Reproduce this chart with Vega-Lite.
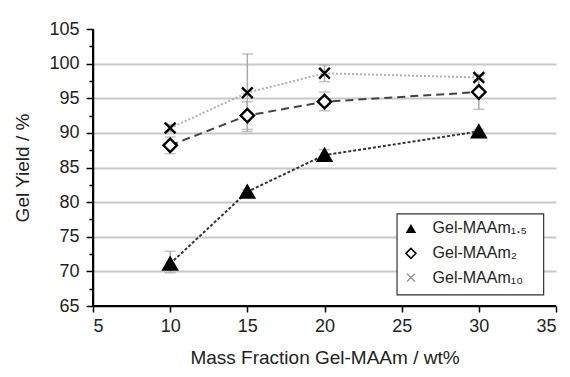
{
  "$schema": "https://vega.github.io/schema/vega-lite/v6.json",
  "width": 570,
  "height": 377,
  "autosize": {"type": "fit", "contains": "padding"},
  "padding": {"left": 13, "top": 20, "right": 13, "bottom": 10},
  "config": {
    "view": {"stroke": null},
    "font": "Liberation Sans",
    "axis": {"labelFont": "Liberation Sans", "titleFont": "Liberation Sans", "labelColor": "#222", "titleColor": "#222", "titleFontWeight": "normal"}
  },
  "data": {
    "values": [
      {"series": "Gel-MAAm₁.₅", "x": 10, "y": 71.1, "lo": 69.8, "hi": 72.9},
      {"series": "Gel-MAAm₁.₅", "x": 15, "y": 81.5, "lo": 81.2, "hi": 81.8},
      {"series": "Gel-MAAm₁.₅", "x": 20, "y": 86.8, "lo": 86.0, "hi": 87.6},
      {"series": "Gel-MAAm₁.₅", "x": 30, "y": 90.2, "lo": 89.9, "hi": 90.5},
      {"series": "Gel-MAAm₂", "x": 10, "y": 88.2, "lo": 87.0, "hi": 89.4},
      {"series": "Gel-MAAm₂", "x": 15, "y": 92.5, "lo": 90.5, "hi": 94.5},
      {"series": "Gel-MAAm₂", "x": 20, "y": 94.5, "lo": 93.2, "hi": 95.9},
      {"series": "Gel-MAAm₂", "x": 30, "y": 95.9, "lo": 93.4, "hi": 98.4},
      {"series": "Gel-MAAm₁₀", "x": 10, "y": 90.7, "lo": 90.2, "hi": 91.2},
      {"series": "Gel-MAAm₁₀", "x": 15, "y": 95.8, "lo": 90.2, "hi": 101.4},
      {"series": "Gel-MAAm₁₀", "x": 20, "y": 98.6, "lo": 97.4, "hi": 99.8},
      {"series": "Gel-MAAm₁₀", "x": 30, "y": 98.0, "lo": 97.7, "hi": 98.3}
    ]
  },
  "resolve": {"axis": {"y": "independent"}},
  "layer": [
    {
      "mark": {"type": "rule", "color": "#aaaaaa", "strokeWidth": 1.5},
      "encoding": {
        "x": {
          "field": "x", "type": "quantitative",
          "scale": {"domain": [5, 35], "nice": false, "zero": false},
          "axis": {"values": [5, 10, 15, 20, 25, 30, 35], "grid": false, "domain": true, "domainColor": "#000000", "domainWidth": 1.5, "ticks": true, "tickColor": "#000000", "tickWidth": 1.5, "tickSize": 6, "labelFontSize": 18, "labelPadding": 5, "title": "Mass Fraction Gel-MAAm / wt%", "titleFontSize": 19, "titlePadding": 13}
        },
        "y": {"field": "lo", "type": "quantitative", "scale": {"domain": [65, 105], "nice": false, "zero": false},
          "axis": {
            "orient": "left",
            "values": [65, 70, 75, 80, 85, 90, 95, 100, 105],
            "labelOverlap": false,
            "domain": true, "domainColor": "#000000", "domainWidth": 1.5,
            "ticks": true, "tickColor": "#000000", "tickWidth": 1.5, "tickSize": 7,
            "grid": true,
            "gridColor": "#c8c8c8",
            "gridWidth": 2,
            "gridOpacity": {"condition": {"test": "datum.value > 65 && datum.value < 105", "value": 1}, "value": 0},
            "labelFontSize": 18, "labelPadding": 7,
            "title": "Gel Yield / %", "titleFontSize": 19, "titlePadding": 16
          }},
        "y2": {"field": "hi"}
      }
    },
    {
      "mark": {"type": "tick", "color": "#aaaaaa", "thickness": 1.5, "size": 11, "orient": "horizontal"},
      "encoding": {
        "x": {"field": "x", "type": "quantitative"},
        "y": {"field": "lo", "type": "quantitative",
        "axis": {"orient": "left", "values": [67.5, 72.5, 77.5, 82.5, 87.5, 92.5, 97.5, 102.5], "labels": false, "domain": false, "grid": false, "tickColor": "#000000", "tickWidth": 1.5, "tickSize": 4, "title": null}}}
    },
    {
      "mark": {"type": "tick", "color": "#aaaaaa", "thickness": 1.5, "size": 11, "orient": "horizontal"},
      "encoding": {
        "x": {"field": "x", "type": "quantitative"},
        "y": {"field": "hi", "type": "quantitative", "axis": null}}
    },
    {
      "mark": {"type": "rule", "color": "#000000", "strokeWidth": 1.5},
      "encoding": {"x": {"datum": 5, "type": "quantitative"}, "y": {"datum": 65, "type": "quantitative", "axis": null}, "y2": {"datum": 105}}
    },
    {
      "mark": {"type": "rule", "color": "#000000", "strokeWidth": 1.5},
      "encoding": {"x": {"datum": 5, "type": "quantitative"}, "x2": {"datum": 35}, "y": {"datum": 65, "type": "quantitative", "axis": null}}
    },
    {
      "mark": {"type": "line"},
      "encoding": {
        "x": {"field": "x", "type": "quantitative"},
        "y": {"field": "y", "type": "quantitative", "axis": null},
        "detail": {"field": "series"},
        "stroke": {"field": "series", "type": "nominal", "legend": null,
          "scale": {"domain": ["Gel-MAAm₁.₅", "Gel-MAAm₂", "Gel-MAAm₁₀"], "range": ["#333333", "#444444", "#b0b0b0"]}},
        "strokeDash": {"field": "series", "type": "nominal", "legend": null,
          "scale": {"domain": ["Gel-MAAm₁.₅", "Gel-MAAm₂", "Gel-MAAm₁₀"], "range": [[3, 2], [8, 5], [2, 2]]}},
        "strokeWidth": {"field": "series", "type": "nominal", "legend": null,
          "scale": {"domain": ["Gel-MAAm₁.₅", "Gel-MAAm₂", "Gel-MAAm₁₀"], "range": [2, 2, 1.2]}}
      }
    },
    {
      "mark": {"type": "point", "strokeWidth": 2.4, "opacity": 1, "size": 180, "stroke": "#000000"},
      "encoding": {
        "x": {"field": "x", "type": "quantitative"},
        "y": {"field": "y", "type": "quantitative", "axis": null},
        "shape": {"field": "series", "type": "nominal", "legend": null,
          "scale": {"domain": ["Gel-MAAm₁.₅", "Gel-MAAm₂", "Gel-MAAm₁₀"], "range": ["triangle-up", "diamond", "M-0.8,-0.8L0.8,0.8M0.8,-0.8L-0.8,0.8"]}},
        "fill": {"field": "series", "type": "nominal", "legend": null,
          "scale": {"domain": ["Gel-MAAm₁.₅", "Gel-MAAm₂", "Gel-MAAm₁₀"], "range": ["#000000", "#ffffff", "#000000"]}}
      }
    },
    {
      "data": {"values": [{"box": "legend"}]},
      "mark": {"type": "rect", "fill": "#ffffff", "stroke": "#333333", "strokeWidth": 1.2},
      "encoding": {
        "x": {"datum": 24.7, "type": "quantitative"}, "x2": {"datum": 34.2},
        "y": {"datum": 66.6, "type": "quantitative", "axis": null}, "y2": {"datum": 78.3}
      }
    },
    {
      "data": {"values": [{"label": "Gel-MAAm₁.₅", "series": "Gel-MAAm₁.₅"}]},
      "layer": [
        {"mark": {"type": "point", "shape": "triangle-up", "filled": true, "color": "#000000", "size": 110, "opacity": 1},
         "encoding": {"x": {"datum": 25.6, "type": "quantitative"}, "y": {"datum": 76.2, "type": "quantitative", "axis": null}}},
        {"mark": {"type": "text", "align": "left", "baseline": "middle", "fontSize": 16, "font": "Liberation Sans", "color": "#222222"},
         "encoding": {"x": {"datum": 27.0, "type": "quantitative"}, "y": {"datum": 76.2, "type": "quantitative", "axis": null}, "text": {"field": "label"}}}
      ]
    },
    {
      "data": {"values": [{"label": "Gel-MAAm₂", "series": "Gel-MAAm₂"}]},
      "layer": [
        {"mark": {"type": "point", "shape": "diamond", "filled": false, "color": "#000000", "strokeWidth": 1.5, "size": 100, "opacity": 1},
         "encoding": {"x": {"datum": 25.6, "type": "quantitative"}, "y": {"datum": 72.6, "type": "quantitative", "axis": null}}},
        {"mark": {"type": "text", "align": "left", "baseline": "middle", "fontSize": 16, "font": "Liberation Sans", "color": "#222222"},
         "encoding": {"x": {"datum": 27.0, "type": "quantitative"}, "y": {"datum": 72.6, "type": "quantitative", "axis": null}, "text": {"field": "label"}}}
      ]
    },
    {
      "data": {"values": [{"label": "Gel-MAAm₁₀", "series": "Gel-MAAm₁₀"}]},
      "layer": [
        {"mark": {"type": "point", "shape": "M-0.8,-0.8L0.8,0.8M0.8,-0.8L-0.8,0.8", "filled": false, "color": "#888888", "strokeWidth": 1.3, "size": 100, "opacity": 1},
         "encoding": {"x": {"datum": 25.6, "type": "quantitative"}, "y": {"datum": 69.1, "type": "quantitative", "axis": null}}},
        {"mark": {"type": "text", "align": "left", "baseline": "middle", "fontSize": 16, "font": "Liberation Sans", "color": "#222222"},
         "encoding": {"x": {"datum": 27.0, "type": "quantitative"}, "y": {"datum": 69.1, "type": "quantitative", "axis": null}, "text": {"field": "label"}}}
      ]
    }
  ]
}
